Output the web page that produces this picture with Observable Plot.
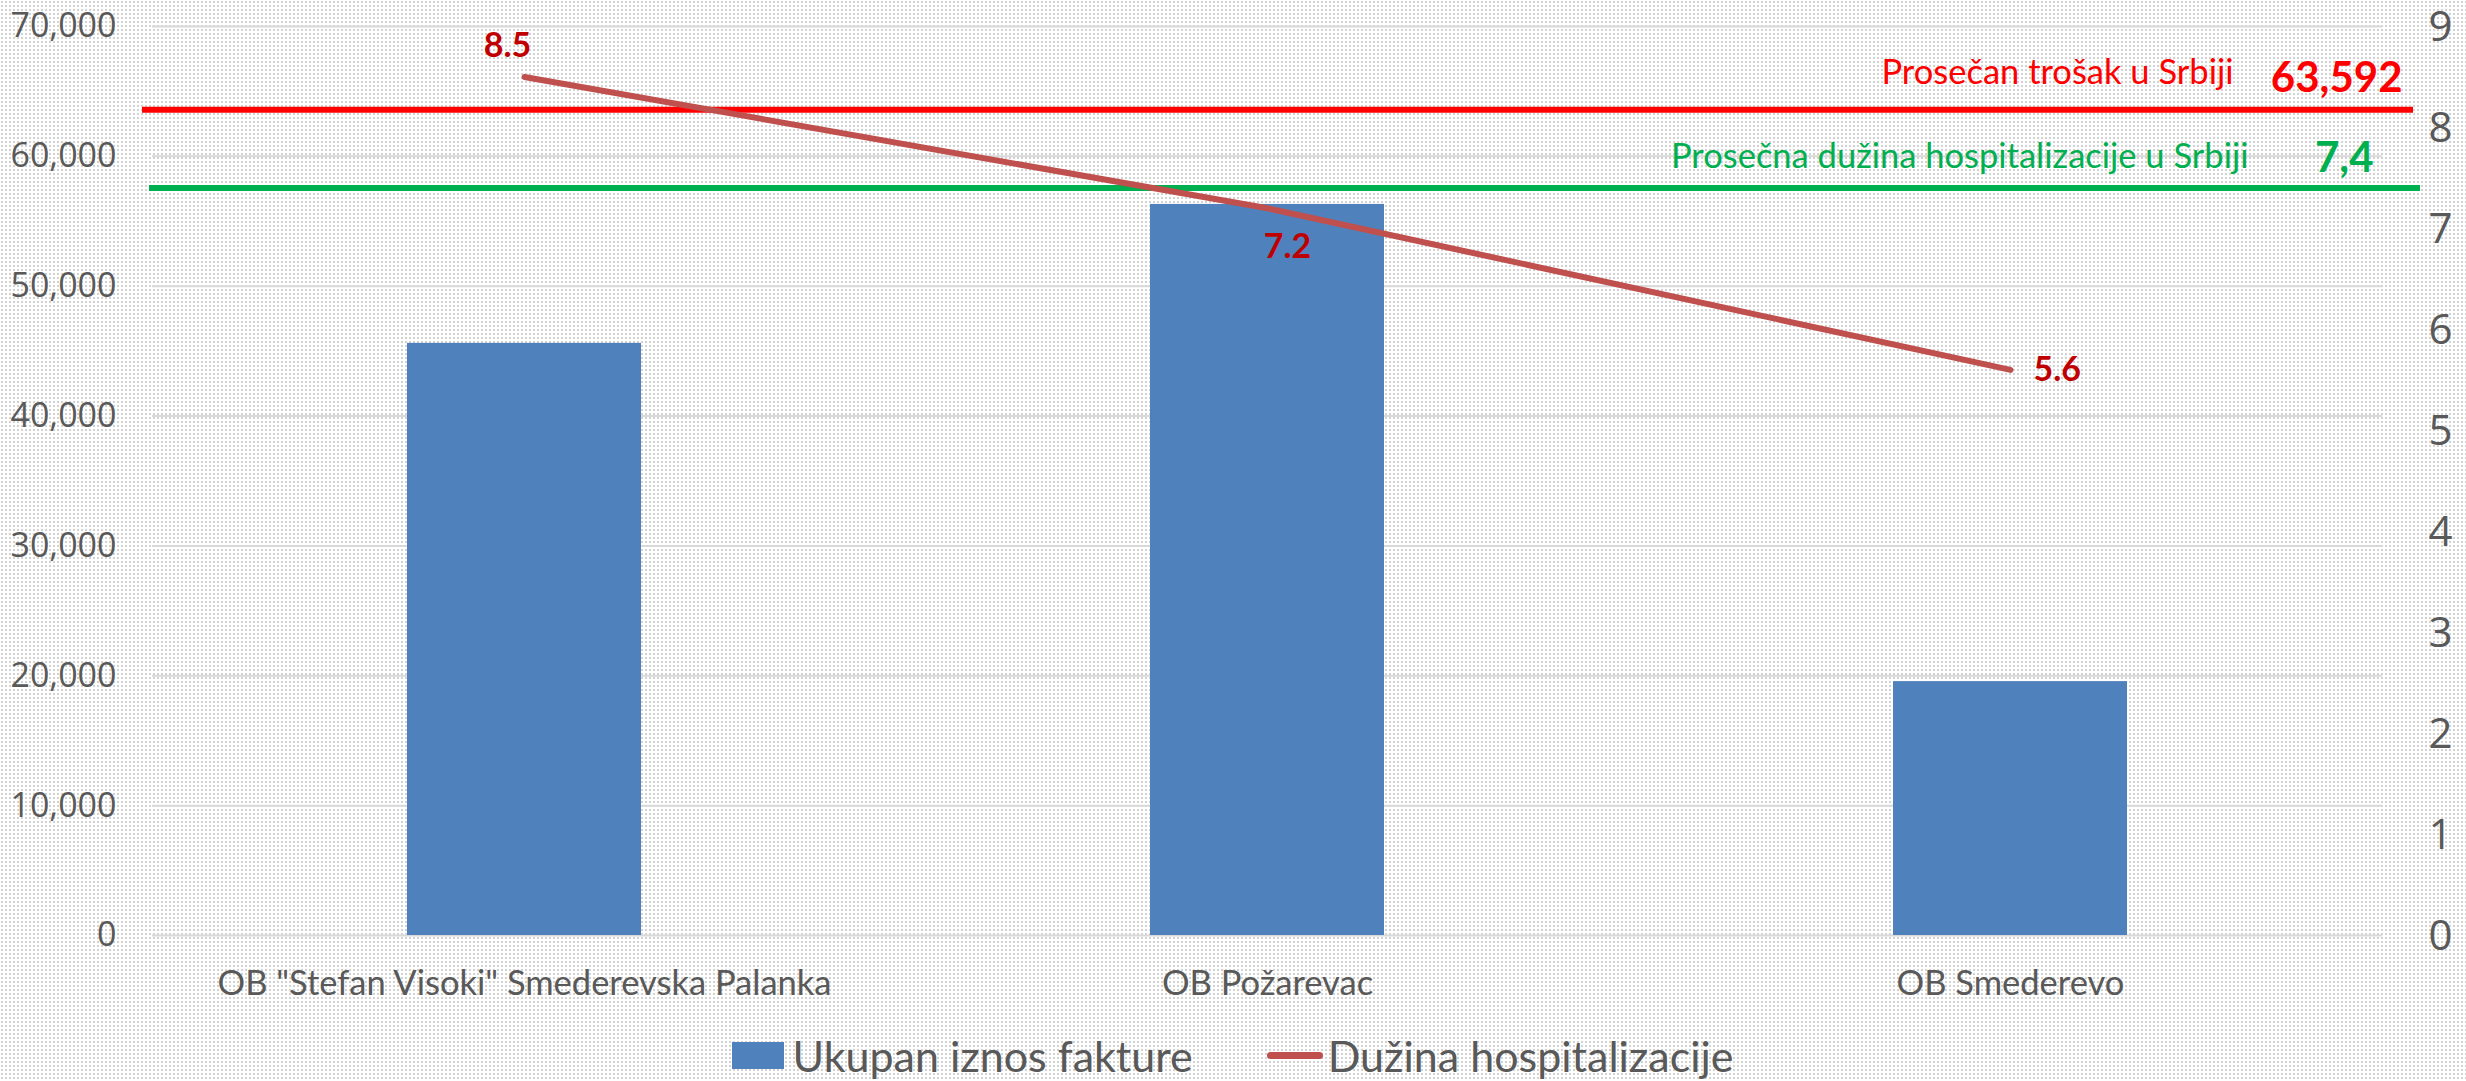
<!DOCTYPE html>
<html>
<head>
<meta charset="utf-8">
<script src="https://cdn.jsdelivr.net/npm/d3@7"></script>
<script src="https://cdn.jsdelivr.net/npm/@observablehq/plot@0.6"></script>
<style>
  html, body { margin: 0; padding: 0; overflow: hidden; }
  body {
    width: 2466px; height: 1081px; position: relative;
    background-color: #ffffff;
    background-image: radial-gradient(circle, #d2d2d2 0.8px, transparent 1.1px);
    background-size: 4px 4px;
  }
  #chart svg { display: block; overflow: visible; }
  #legend {
    position: absolute; left: 0; top: 1030px; width: 2466px; height: 51px;
    display: flex; justify-content: center; align-items: center;
    font-family: Lato, "Open Sans", sans-serif; font-size: 43px; color: #595959;
  }
  .item { display: flex; align-items: center; }
  .sw-bar { width: 52px; height: 27px; background: #4F81BD; margin-right: 8px; }
  .sw-line { width: 56px; height: 7px; border-radius: 4px; background: #C0504D; margin-right: 5px; }
</style>
</head>
<body>
<div id="chart"></div>
<div id="legend"></div>
<script>
const categories = ['OB "Stefan Visoki" Smederevska Palanka', "OB Požarevac", "OB Smederevo"];
const invoiceTotals = [45600, 56300, 19550];
const stayLengths = [8.5, 7.2, 5.6];
const avgCost = 63592;
const avgStay = 7.4;
const leftTicks = [0, 10000, 20000, 30000, 40000, 50000, 60000, 70000];
const rightTicks = [0, 1, 2, 3, 4, 5, 6, 7, 8, 9];
const seriesNames = ["Ukupan iznos fakture", "Dužina hospitalizacije"];
const annotationNames = ["Prosečan trošak u Srbiji", "Prosečna dužina hospitalizacije u Srbiji"];

const yMax = leftTicks[leftTicks.length - 1];
const y2Max = rightTicks[rightTicks.length - 1];
const k = yMax / y2Max;

const data = categories.map((c, i) => ({cat: c, total: invoiceTotals[i], stay: stayLengths[i]}));

const labelStyle = {fontFamily: "Lato", fontWeight: "bold", fontSize: 34, fill: "#C00000"};

const chart = Plot.plot({
  width: 2466,
  height: 1030,
  marginTop: 26,
  marginBottom: 95,
  marginLeft: 152,
  marginRight: 84,
  style: {background: "transparent", fontFamily: "Lato", overflow: "visible"},
  x: {domain: categories, paddingInner: 0.6855, paddingOuter: 0.343},
  y: {domain: [0, yMax]},
  marks: [
    Plot.ruleY(leftTicks, {stroke: "#D9D9D9", strokeWidth: 2}),
    Plot.barY(data, {x: "cat", y: "total", fill: "#4F81BD"}),
    Plot.ruleY([avgCost], {stroke: "#FF0000", strokeWidth: 6, insetLeft: -10, insetRight: -31}),
    Plot.ruleY([avgStay * k], {stroke: "#00B050", strokeWidth: 6, insetLeft: -3, insetRight: -38}),
    Plot.line(data, {x: "cat", y: d => d.stay * k, stroke: "#C0504D", strokeWidth: 6, strokeLinecap: "round"}),
    Plot.text([data[0]], {x: "cat", y: d => d.stay * k, text: d => d.stay.toFixed(1), lineAnchor: "bottom", textAnchor: "middle", dx: -17, dy: -20, ...labelStyle}),
    Plot.text([data[1]], {x: "cat", y: d => d.stay * k, text: d => d.stay.toFixed(1), lineAnchor: "bottom", textAnchor: "middle", dx: 20, dy: 50, ...labelStyle}),
    Plot.text([data[2]], {x: "cat", y: d => d.stay * k, text: d => d.stay.toFixed(1), lineAnchor: "bottom", textAnchor: "start", dx: 23, dy: 11, ...labelStyle}),
    Plot.text([avgCost], {y: d => d, frameAnchor: "right", text: () => annotationNames[0], textAnchor: "end", lineAnchor: "bottom", dx: -149, dy: -26, fontFamily: "Lato", fontSize: 34.5, fill: "#FF0000"}),
    Plot.text([avgCost], {y: d => d, frameAnchor: "right", text: d => d3.format(",")(d), textAnchor: "end", lineAnchor: "bottom", dx: 20, dy: -18, fontFamily: "Lato", fontWeight: "bold", fontSize: 42, fill: "#FF0000"}),
    Plot.text([avgStay], {y: d => d * k, frameAnchor: "right", text: () => annotationNames[1], textAnchor: "end", lineAnchor: "bottom", dx: -134, dy: -20, fontFamily: "Lato", fontSize: 34.5, fill: "#00B050"}),
    Plot.text([avgStay], {y: d => d * k, frameAnchor: "right", text: d => String(d).replace(".", ","), textAnchor: "end", lineAnchor: "bottom", dx: -9, dy: -16, fontFamily: "Lato", fontWeight: "bold", fontSize: 42, fill: "#00B050"}),
    Plot.axisY(leftTicks, {anchor: "left", tickSize: 0, tickPadding: 36, tickFormat: d3.format(","), label: null, fontFamily: "Open Sans", fontSize: 34, color: "#595959"}),
    Plot.axisY(rightTicks.map(v => v * k), {anchor: "right", tickSize: 0, tickPadding: 46, dy: 1, tickFormat: d => String(Math.round(d / k)), label: null, fontFamily: "Open Sans", fontSize: 42, color: "#595959"}),
    Plot.axisX({anchor: "bottom", tickSize: 0, tickPadding: 35, label: null, fontFamily: "Lato", fontSize: 34.5, color: "#595959"})
  ]
});
document.getElementById("chart").appendChild(chart);

const legend = document.getElementById("legend");
legend.innerHTML =
  `<div class="item"><div class="sw-bar"></div><span>${seriesNames[0]}</span></div>` +
  `<div class="item" style="margin-left:74px"><div class="sw-line"></div><span>${seriesNames[1]}</span></div>`;
</script>
</body>
</html>
